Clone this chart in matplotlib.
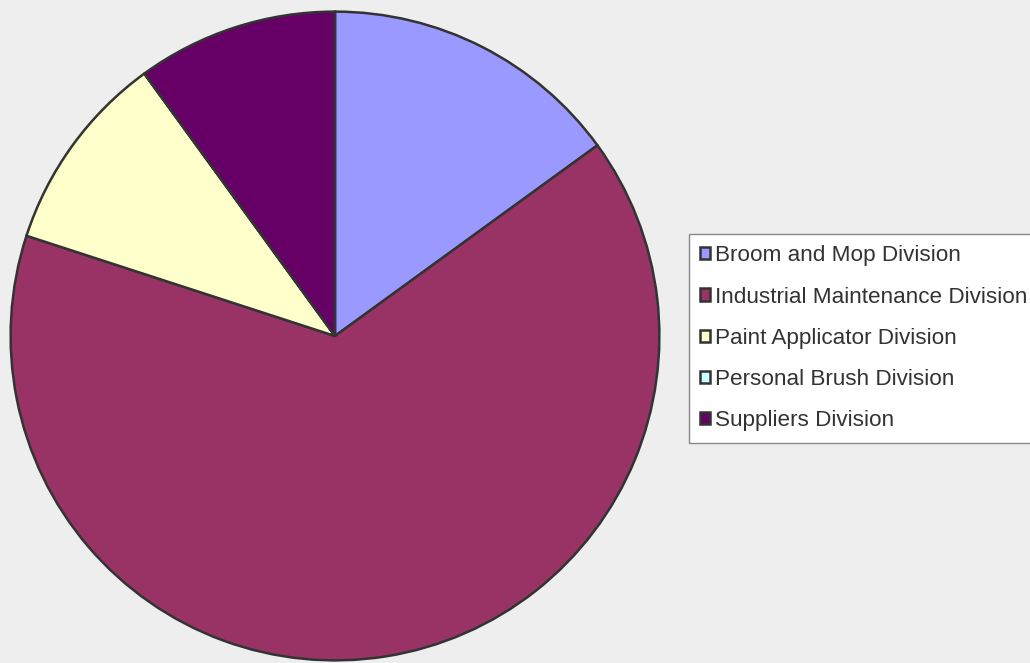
import matplotlib.pyplot as plt
from matplotlib.patches import Patch

divisions = ["Broom and Mop Division", "Industrial Maintenance Division",
             "Paint Applicator Division", "Personal Brush Division",
             "Suppliers Division"]
shares = [15, 65, 10, 0, 10]
colors = ["#9999FF", "#993366", "#FFFFCC", "#CCFFFF", "#660066"]

plt.rcParams['font.family'] = ['Liberation Sans', 'DejaVu Sans']

fig = plt.figure(figsize=(10.30, 6.63), dpi=100, facecolor="#EEEEEE")
ax = fig.add_axes([9 / 1030, 1 / 663, 652 / 1030, 652 / 663])
ax.set_facecolor("#EEEEEE")

ax.pie(shares, colors=colors, startangle=90, counterclock=False, radius=1.0,
       wedgeprops=dict(edgecolor="#333333", linewidth=1.8))
ax.set_xlim(-1.005, 1.005)
ax.set_ylim(-1.005, 1.005)
ax.set_aspect("equal")
ax.axis("off")

handles = [Patch(facecolor=c, edgecolor="#333333", linewidth=1.8) for c in colors]
leg = fig.legend(handles, divisions, loc="upper left",
                 bbox_to_anchor=(689 / 1030, 1 - 234 / 663),
                 fontsize=16.2, frameon=True, fancybox=False, framealpha=1,
                 handlelength=0.45, handleheight=0.45, handletextpad=0.2,
                 labelspacing=0.9, borderpad=0.5, borderaxespad=0)
leg.get_frame().set_edgecolor("#888888")
leg.get_frame().set_linewidth(1.0)
leg.get_frame().set_facecolor("white")
for t in leg.get_texts():
    t.set_color("#333333")

fig.savefig("out.png", dpi=100, facecolor=fig.get_facecolor())
